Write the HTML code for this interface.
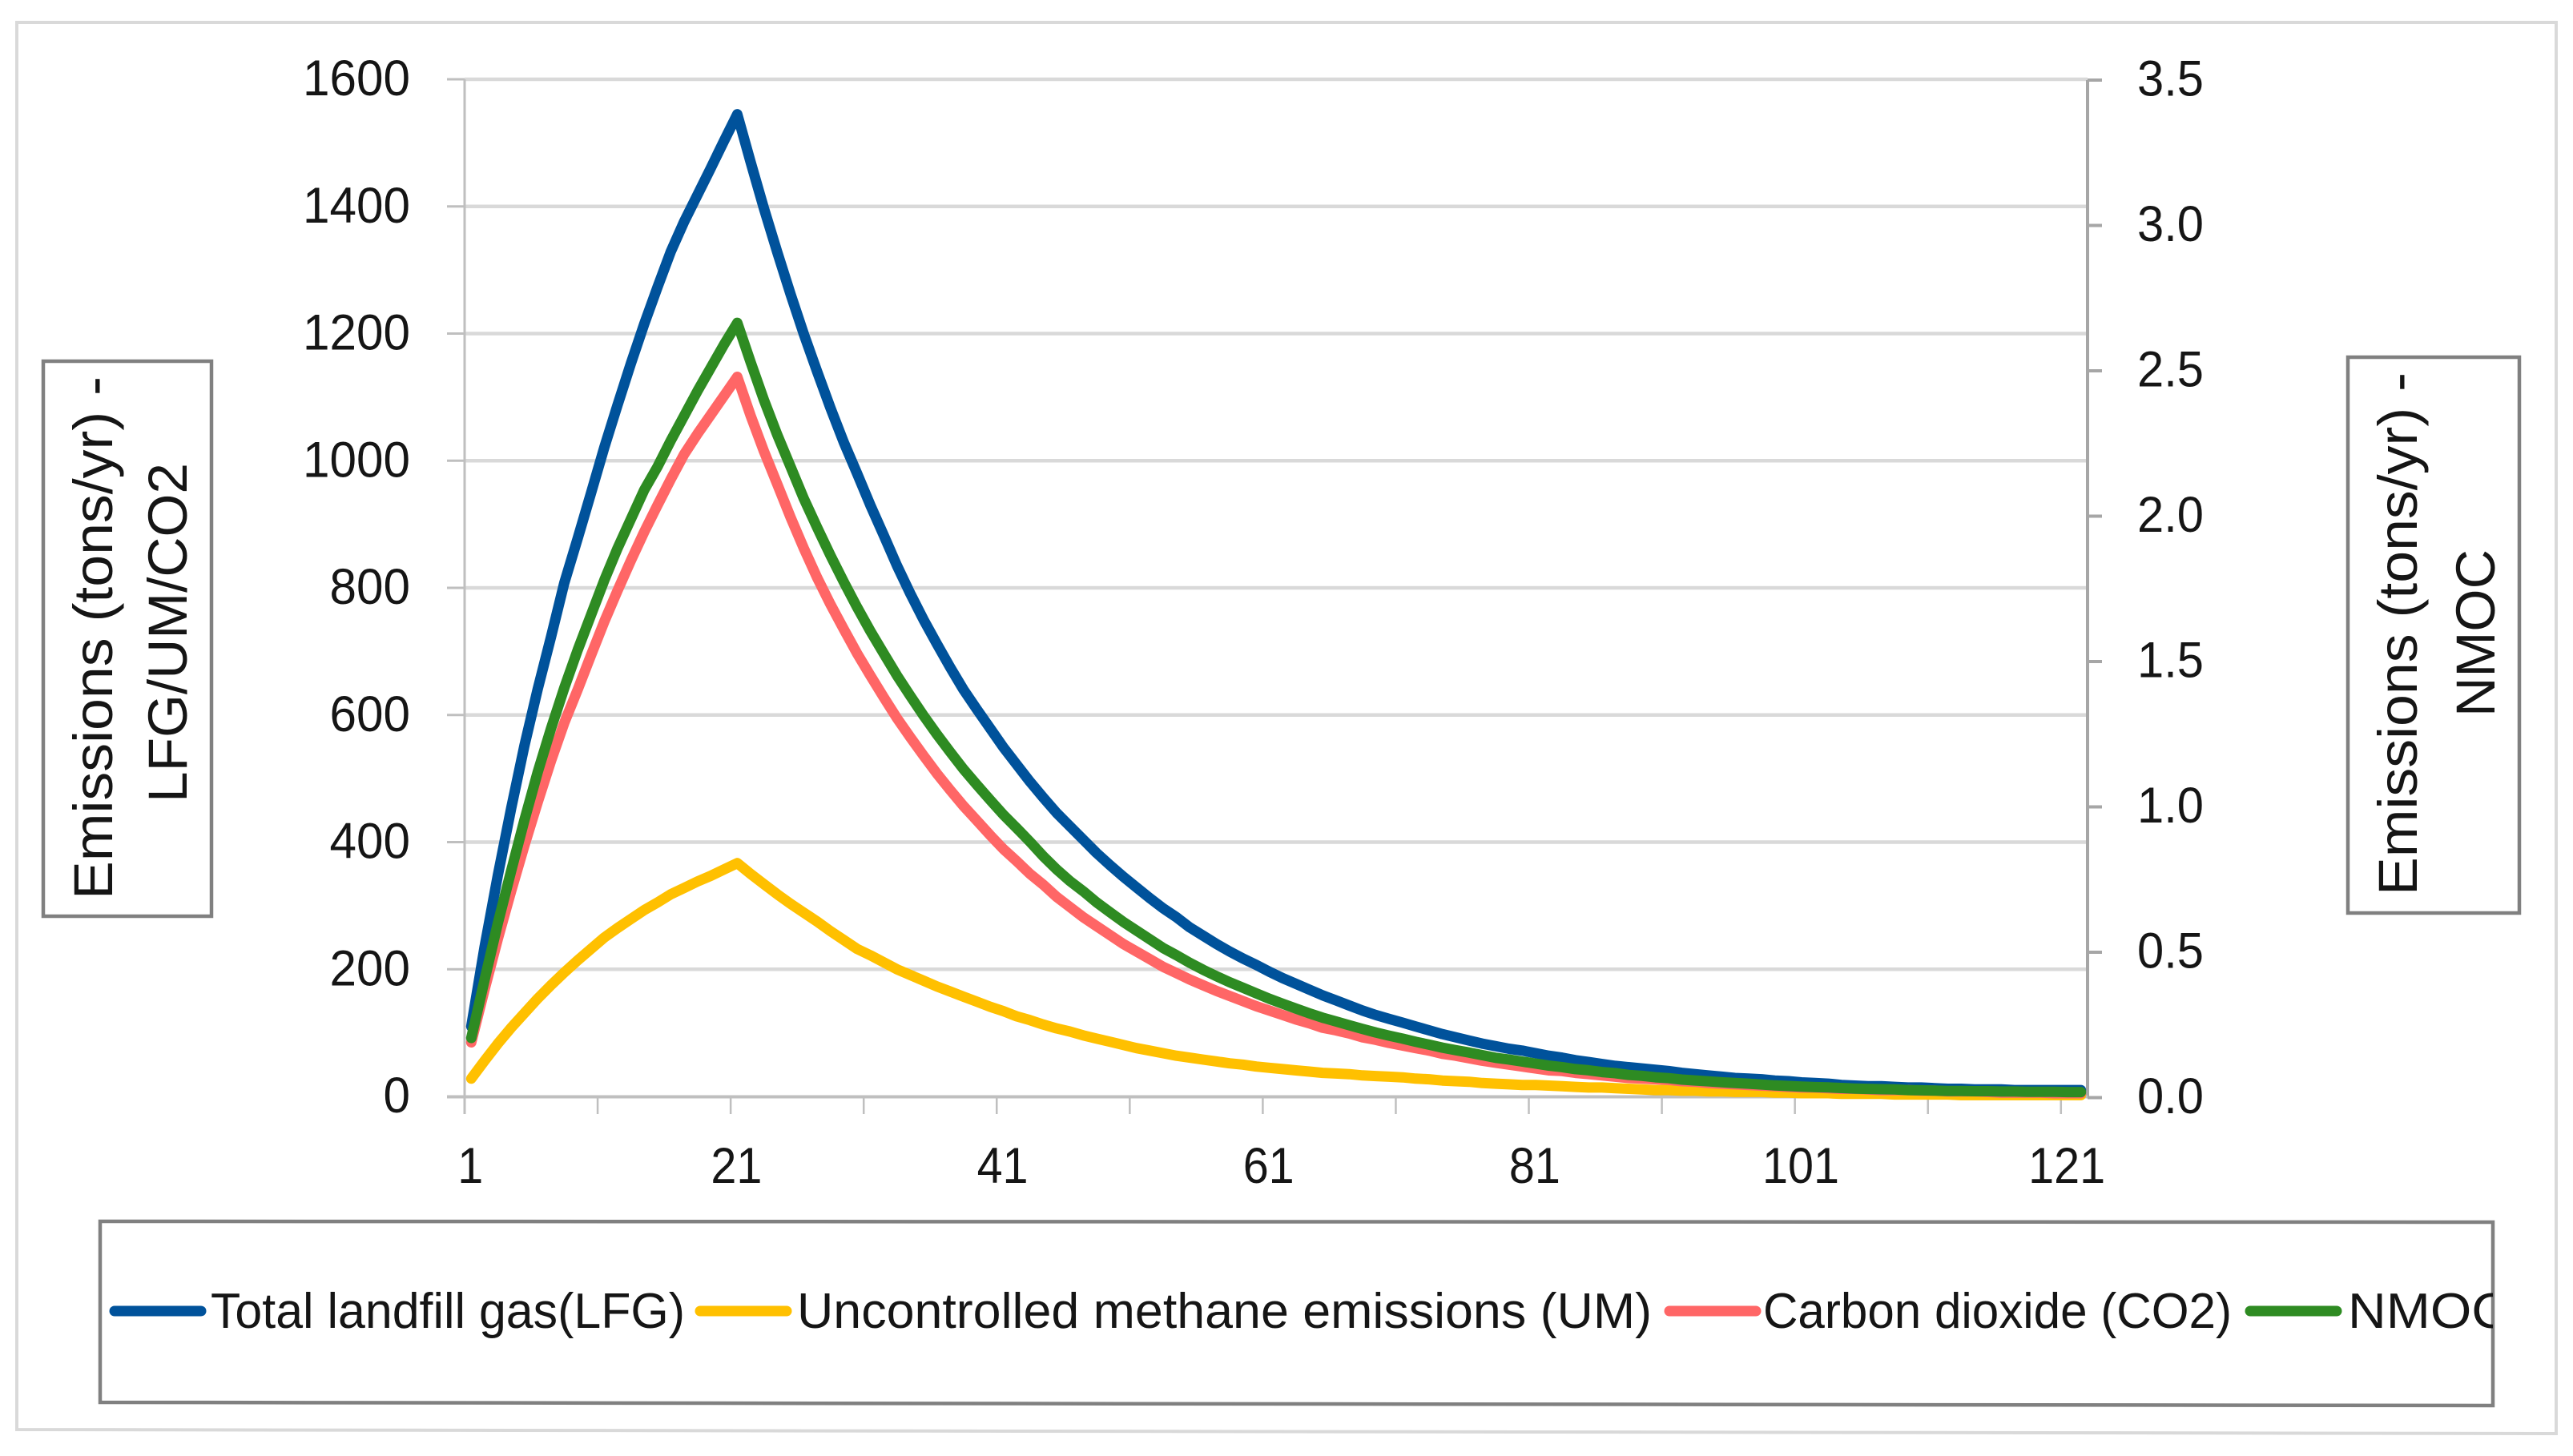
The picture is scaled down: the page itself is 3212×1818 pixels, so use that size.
<!DOCTYPE html>
<html lang="en">
<head>
<meta charset="utf-8">
<title>Landfill emissions chart</title>
<style>
html,body{margin:0;padding:0;background:#fff;}
svg{display:block;}
text{font-family:"Liberation Sans",sans-serif;fill:#151515;}
</style>
</head>
<body>
<svg id="chart" xmlns="http://www.w3.org/2000/svg" width="3212" height="1818" viewBox="0 0 3212 1818">
<defs><clipPath id="legend-clip"><rect x="125" y="1520" width="2987" height="240"/></clipPath></defs>
<rect x="0" y="0" width="3212" height="1818" fill="#ffffff"/>
<polygon points="21,28 3191,28 3191,1790 21,1785" fill="none" stroke="#d9d9d9" stroke-width="4"/>
<g id="grid"></g>
<g id="axes"></g>
<g id="series"></g>

<g>
<rect x="54" y="451" width="210" height="693" fill="#fff" stroke="#808080" stroke-width="4.5"/>
<text transform="translate(140,1123) rotate(-90)" font-size="69" textLength="653" lengthAdjust="spacingAndGlyphs">Emissions (tons/yr) -</text>
<text transform="translate(233,1002) rotate(-90)" font-size="69" textLength="424" lengthAdjust="spacingAndGlyphs">LFG/UM/CO2</text>
</g>
<g>
<rect x="2931" y="446" width="214" height="694" fill="#fff" stroke="#808080" stroke-width="4.5"/>
<text transform="translate(3017,1118) rotate(-90)" font-size="69" textLength="653" lengthAdjust="spacingAndGlyphs">Emissions (tons/yr) -</text>
<text transform="translate(3114,895) rotate(-90)" font-size="69" textLength="209" lengthAdjust="spacingAndGlyphs">NMOC</text>
</g>

<g>
<polygon points="125,1525 3112,1526 3112,1755 125,1751" fill="#fff" stroke="#808080" stroke-width="4.5"/>
<g clip-path="url(#legend-clip)">
<line x1="143" y1="1637" x2="251" y2="1637" stroke="#00529b" stroke-width="13" stroke-linecap="round"/>
<text x="263" y="1658" font-size="62" textLength="592" lengthAdjust="spacingAndGlyphs">Total landfill gas(LFG)</text>
<line x1="874" y1="1637" x2="982" y2="1637" stroke="#ffc000" stroke-width="13" stroke-linecap="round"/>
<text x="995" y="1658" font-size="62" textLength="1067" lengthAdjust="spacingAndGlyphs">Uncontrolled methane emissions (UM)</text>
<line x1="2084" y1="1637" x2="2192" y2="1637" stroke="#ff6666" stroke-width="13" stroke-linecap="round"/>
<text x="2201" y="1658" font-size="62" textLength="585" lengthAdjust="spacingAndGlyphs">Carbon dioxide (CO2)</text>
<line x1="2809" y1="1637" x2="2917" y2="1637" stroke="#2e8b22" stroke-width="13" stroke-linecap="round"/>
<text x="2931" y="1658" font-size="62" textLength="202" lengthAdjust="spacingAndGlyphs">NMOC</text>
</g>
</g>
</svg>
<script>
const leftTicks = [0, 200, 400, 600, 800, 1000, 1200, 1400, 1600];
const rightTicks = [0, 0.5, 1, 1.5, 2, 2.5, 3, 3.5];
const xLabels = [1, 21, 41, 61, 81, 101, 121];
const xTickCats = [1, 11, 21, 31, 41, 51, 61, 71, 81, 91, 101, 111, 121];

const lfg = [
110,235,348,453,552,641,723,808,878,949,
1021,1088,1153,1215,1273,1329,1376,1418,1460,1503,
1545,1470,1397,1328,1262,1199,1140,1083,1029,980,
930,883,835,791,750,712,675,640,609,579,
549,522,495,470,446,425,404,383,364,346,
329,312,296,282,266,253,240,228,217,207,
196,186,177,168,159,151,143,135,128,122,
116,110,104,98,93,88,83,79,75,72,
68,64,61,57,54,51,48,46,44,42,
40,37,35,33,31,29,28,27,25,24,
22,21,20,18,17,16,16,15,14,14,
13,12,12,11,11,11,10,10,10,10,
10,10];
const um = [
28,56,83,108,131,154,175,195,214,232,
250,265,279,293,305,318,328,338,347,357,
367,350,334,318,303,289,275,260,246,232,
222,211,200,191,182,173,165,157,149,141,
134,126,120,113,107,102,96,91,86,81,
76,72,68,64,61,58,55,52,50,47,
45,43,41,39,37,36,35,33,32,31,
30,28,27,25,24,23,21,20,19,18,
18,17,16,15,14,14,13,12,11,10,
10,9,9,8,8,7,7,7,6,6,
5,5,5,4,4,4,4,3,3,3,
3,3,2,2,2,2,2,2,2,2,
2,2];
const co2 = [
85,168,248,323,395,463,528,588,640,694,
747,796,843,888,930,971,1010,1042,1072,1102,
1132,1071,1015,963,911,862,816,774,735,697,
662,628,595,565,536,508,482,457,434,411,
389,370,350,333,314,298,282,268,254,240,
228,216,204,194,184,175,166,158,150,142,
135,128,121,115,108,104,99,93,89,84,
80,76,72,67,64,60,56,53,50,47,
44,41,40,37,35,33,31,29,28,27,
26,24,23,21,20,19,18,17,16,15,
14,14,13,12,12,11,10,10,10,9,
9,8,8,8,7,6,6,6,6,5,
5,5];
const nmoc = [
0.205,0.405,0.600,0.780,0.955,1.120,1.270,1.410,1.540,1.660,
1.780,1.890,1.990,2.090,2.170,2.260,2.345,2.430,2.510,2.590,
2.665,2.530,2.400,2.280,2.170,2.060,1.961,1.865,1.774,1.687,
1.605,1.528,1.452,1.382,1.314,1.250,1.189,1.130,1.076,1.024,
0.973,0.927,0.880,0.830,0.785,0.745,0.710,0.672,0.638,0.605,
0.575,0.545,0.515,0.490,0.464,0.440,0.418,0.397,0.378,0.359,
0.340,0.323,0.306,0.290,0.275,0.262,0.249,0.236,0.224,0.213,
0.203,0.192,0.182,0.172,0.163,0.155,0.146,0.137,0.131,0.124,
0.117,0.110,0.105,0.098,0.094,0.088,0.084,0.078,0.075,0.070,
0.067,0.062,0.059,0.056,0.053,0.050,0.048,0.045,0.042,0.040,
0.038,0.036,0.035,0.033,0.031,0.030,0.029,0.028,0.026,0.025,
0.024,0.023,0.023,0.022,0.022,0.021,0.021,0.020,0.020,0.020,
0.019,0.019];

const NS = 'http://www.w3.org/2000/svg';
const plotLeft = 580, plotRight = 2606, catCount = 122;
const catWidth = (plotRight - plotLeft) / catCount;
const xAxis = c => plotLeft + (c - 0.5) * catWidth;
const yLeft = v => 1369 - v * (1369 - 99) / 1600;
const yRight = v => 1370.5 - v * (1370.5 - 100) / 3.5;

function svgEl(tag, parent, attrs) {
  const el = document.createElementNS(NS, tag);
  for (const k in attrs) el.setAttribute(k, attrs[k]);
  parent.appendChild(el);
  return el;
}

const gridG = document.getElementById('grid');
const axesG = document.getElementById('axes');
const seriesG = document.getElementById('series');

leftTicks.forEach(v => {
  if (v > 0) {
    const g = svgEl('line', gridG, {x1: plotLeft, x2: plotRight, y1: yLeft(v), y2: yLeft(v), stroke: '#d9d9d9', 'stroke-width': 4.5});
    
    
  }
  const t = svgEl('line', axesG, {x1: 558, x2: plotLeft, y1: yLeft(v), y2: yLeft(v), stroke: '#bfbfbf', 'stroke-width': 3});
  
  
  const s = String(v);
  const l = svgEl('text', axesG, {x: 512, y: yLeft(v) + 20, 'font-size': 63, 'text-anchor': 'end', textLength: 33.5 * s.length, lengthAdjust: 'spacingAndGlyphs'});
  l.textContent = s;
  
  
});

rightTicks.forEach(v => {
  const t = svgEl('line', axesG, {x1: plotRight, x2: 2624, y1: yRight(v), y2: yRight(v), stroke: '#a6a6a6', 'stroke-width': 4});
  
  
  const l = svgEl('text', axesG, {x: 2668, y: yRight(v) + 19.5, 'font-size': 63, textLength: 83, lengthAdjust: 'spacingAndGlyphs'});
  l.textContent = v.toFixed(1);
  
  
});

xTickCats.forEach(c => {
  const x = xAxis(c) - catWidth / 2;
  const t = svgEl('line', axesG, {x1: x, x2: x, y1: 1369, y2: 1391, stroke: '#bfbfbf', 'stroke-width': 2.5});
  
  
});

xLabels.forEach(c => {
  const s = String(c);
  const l = svgEl('text', axesG, {x: xAxis(c) - 1, y: 1477, 'font-size': 63, 'text-anchor': 'middle', textLength: 32 * s.length, lengthAdjust: 'spacingAndGlyphs'});
  l.textContent = s;
  
  
});

const leftAxis = svgEl('line', axesG, {x1: plotLeft, x2: plotLeft, y1: yLeft(1600), y2: 1391, stroke: '#bfbfbf', 'stroke-width': 3});


const rightAxis = svgEl('line', axesG, {x1: plotRight, x2: plotRight, y1: yRight(3.5), y2: yRight(0), stroke: '#a6a6a6', 'stroke-width': 4});


const xAxisLine = svgEl('line', axesG, {x1: 558, x2: plotRight, y1: 1369.5, y2: 1369.5, stroke: '#bfbfbf', 'stroke-width': 4});



function drawLine(values, yFn, colour, name) {
  const d = values.map((v, i) => (i ? 'L' : 'M') + xAxis(i + 1).toFixed(1) + ' ' + yFn(v).toFixed(1)).join('');
  const p = svgEl('path', seriesG, {d: d, fill: 'none', stroke: colour, 'stroke-width': 13, 'stroke-linecap': 'round', 'stroke-linejoin': 'round'});
  
  
}
drawLine(lfg, yLeft, '#00529b', 'series-total-landfill-gas');
drawLine(um, yLeft, '#ffc000', 'series-uncontrolled-methane');
drawLine(co2, yLeft, '#ff6666', 'series-carbon-dioxide');
drawLine(nmoc, yRight, '#2e8b22', 'series-nmoc');
</script>
</body>
</html>
